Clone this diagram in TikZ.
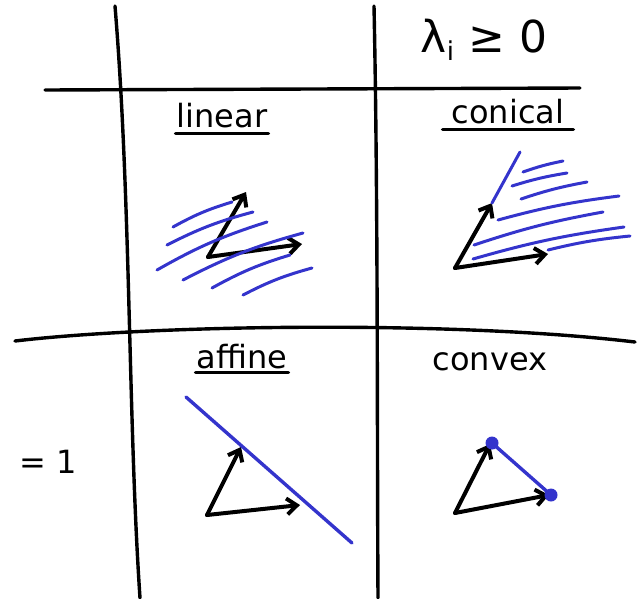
\documentclass[tikz,border=0pt]{standalone}
\usepackage{fontspec}
\setmainfont{DejaVu Sans}
\usetikzlibrary{arrows.meta}
\definecolor{penblue}{RGB}{52,52,204}

\begin{document}
\begin{tikzpicture}[
            x=1pt, y=-1pt,
            >={Straight Barb[length=10pt, width=16pt]},
            line cap=round, line join=round,
            % ---- styles ----
            grid/.style = {draw, line width=3.4pt},
            vec/.style = {->, line width=4pt},
            hatch/.style = {penblue, line width=3pt},
            lbl/.style = {font=\fontsize{32}{36}\selectfont, inner sep=1pt},
            uline/.style = {line width=3.4pt},
            pt/.style = {circle, fill=penblue, inner sep=0pt, minimum size=13pt}
        ]
        \useasboundingbox (0,0) rectangle (642,598);

        % ===================== grid =====================
        \draw[grid] (115,6) .. controls (131,200) and (128,420) .. (140,598);
        \draw[grid] (374,6) .. controls (378,200) and (377,420) .. (378,598);
        \draw[grid] (45,90) -- (580,88);
        \draw[grid] (15,341) .. controls (150,325) and (450,320) .. (635,342);

        % ===================== headings =====================
        \node[lbl, font=\fontsize{44}{48}\selectfont] (lam) at (484,40)
            {λ\raisebox{-8pt}{\fontsize{26}{30}\selectfont i} ≥ 0};
        \node[lbl] (one) at (48,462) {= 1};

        \node[lbl] (lin) at (222,116) {linear};
        \draw[uline] ([yshift=-4pt]lin.south west) -- ([yshift=-4pt]lin.south east);

        \node[lbl] (con) at (508,112) {conical};
        \draw[uline] ([xshift=-8pt,yshift=-4pt]con.south west) -- ([xshift=8pt,yshift=-4pt]con.south east);

        \node[lbl] (aff) at (242,357) {affine};
        \draw[uline] ([yshift=-2pt]aff.south west) -- ([yshift=-2pt]aff.south east);

        \node[lbl] (cvx) at (490,362) {convex};

        % ===================== linear =====================
        \coordinate (lo) at (208,257);
        \coordinate (lu) at (246,192);
        \coordinate (lr) at (302,244);
        \draw[vec] (lo) -- (lu);
        \draw[vec] (lo) -- (lr);
        \foreach \xa/\ya/\xb/\yb in {173/227/232/202, 167/245/253/212, 157/270/267/222,
                                     183/280/303/233, 212/288/290/255, 243/295/312/268}
            \draw[hatch] (\xa,\ya) to[bend left=6] (\xb,\yb);

        % ===================== conical =====================
        \coordinate (co) at (455,268);
        \coordinate (cu) at (492,203);
        \coordinate (cr) at (548,254);
        \coordinate (ctop) at (520,152);
        \draw[vec] (co) -- (cu);
        \draw[vec] (co) -- (cr);
        \draw[hatch] (cu) -- (ctop);
        \foreach \xa/\ya/\xb/\yb in {523/172/563/161, 512/186/567/173, 521/199/587/182,
                                     498/220/619/196, 474/245/603/212, 473/259/624/227,
                                     548/250/630/236}
            \draw[hatch] (\xa,\ya) to[bend left=4] (\xb,\yb);

        % ===================== affine =====================
        \coordinate (ao) at (207,515);
        \coordinate (au) at (241,447);
        \coordinate (ar) at (300,505);
        \coordinate (atop) at (186,397);
        \coordinate (abot) at (352,543);
        \draw[vec] (ao) -- (au);
        \draw[vec] (ao) -- (ar);
        \draw[hatch, line width=3.4pt] (atop) -- (abot);

        % ===================== convex =====================
        \coordinate (vo) at (455,513);
        \coordinate (vu) at (490,444);
        \coordinate (vr) at (549,495);
        \draw[vec] (vo) -- (vu);
        \draw[vec] (vo) -- (vr);
        \node[pt] (p1) at (492,443) {};
        \node[pt] (p2) at (551,495) {};
        \draw[hatch, line width=3.4pt] (p1.center) -- (p2.center);

        \end{tikzpicture}
\end{document}
